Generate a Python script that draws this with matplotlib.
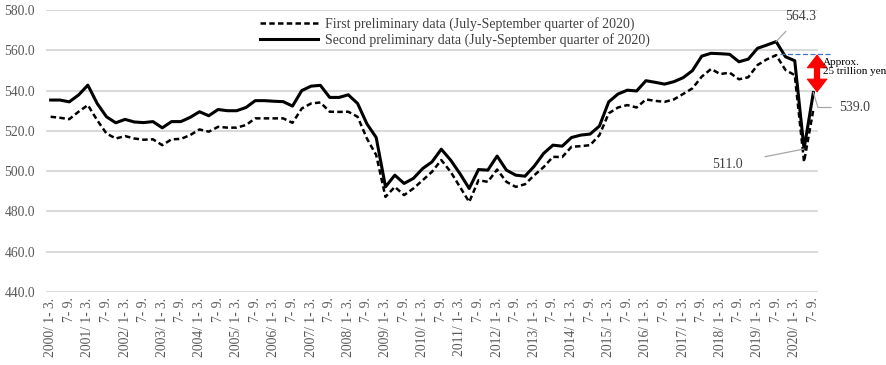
import numpy as np
import matplotlib.pyplot as plt

plt.rcParams["font.family"] = ["Liberation Serif", "DejaVu Serif"]

years = list(range(2000, 2021))
quarters = ["1- 3.", "4- 6.", "7- 9.", "10-12."]

# First preliminary data (July-September quarter of 2020)
first_prelim = [
    527.0, 526.5, 525.8, 529.5, 532.8, 525.3, 518.7, 516.2, 517.4, 516.2,
    515.6, 515.8, 512.9, 515.8, 516.0, 517.9, 520.7, 519.6, 522.0, 521.6,
    521.6, 522.9, 526.2, 526.2, 526.2, 526.2, 524.0, 531.1, 533.6, 534.1,
    529.5, 529.4, 529.5, 527.0, 516.2, 508.0, 487.2, 492.2, 488.1, 491.4,
    495.5, 499.7, 505.5, 499.7, 492.2, 484.7, 495.5, 494.7, 500.8, 494.7,
    492.2, 493.5, 498.0, 502.0, 507.1, 507.0, 512.1, 512.4, 512.9, 517.9,
    528.7, 531.6, 532.8, 531.6, 535.6, 534.9, 534.4, 535.6, 538.3, 541.1,
    546.9, 550.7, 548.2, 548.9, 545.6, 546.6, 552.7, 555.5, 557.6, 550.2,
    547.7, 504.6, 530.5,
]

# Second preliminary data (July-September quarter of 2020)
second_prelim = [
    535.3, 535.3, 534.4, 537.8, 542.7, 533.6, 527.0, 524.0, 525.7, 524.4,
    524.1, 524.6, 521.5, 524.6, 524.6, 526.7, 529.5, 527.5, 530.6, 530.0,
    530.0, 531.6, 535.0, 535.0, 534.7, 534.5, 532.3, 540.0, 542.2, 542.6,
    536.6, 536.6, 537.9, 533.6, 523.5, 516.7, 492.2, 498.0, 493.9, 496.4,
    501.3, 504.6, 510.9, 505.5, 498.8, 491.4, 500.8, 500.5, 507.5, 500.5,
    498.0, 497.5, 502.5, 508.8, 512.9, 512.4, 516.7, 517.9, 518.4, 522.4,
    534.4, 538.3, 540.2, 539.8, 544.9, 544.1, 543.2, 544.4, 546.4, 549.9,
    557.1, 558.5, 558.3, 558.0, 554.3, 555.6, 561.0, 562.6, 564.3, 556.8,
    554.8, 511.0, 539.0,
]

pre_covid_level = 558.0
tick_labels = []
for y in years:
    for q in quarters:
        tick_labels.append(f"{y}/ {q}")
tick_labels = tick_labels[:len(second_prelim)]


def main():
    x = np.arange(len(second_prelim))
    fig = plt.figure(figsize=(8.87, 3.65), dpi=100)
    ax = fig.add_axes([46 / 887, 1 - 292 / 365, 772 / 887, 282 / 365])

    ax.plot(x, first_prelim, color="black", lw=1.8, ls=(0, (2.2, 1.3)),
            label="First preliminary data (July-September quarter of 2020)")
    ax.plot(x, second_prelim, color="black", lw=2.2,
            label="Second preliminary data (July-September quarter of 2020)")

    ax.set_xlim(-0.5, len(x) - 0.5)
    ax.set_ylim(440, 580)
    ax.set_yticks(np.arange(440, 581, 20))
    ax.set_yticklabels([f"{v:.1f}" for v in np.arange(440, 581, 20)])
    ticks = x[::2]
    labels = [tick_labels[i] if i % 4 == 0 else tick_labels[i].split("/ ")[1] for i in ticks]
    ax.set_xticks(ticks)
    ax.set_xticklabels(labels, rotation=90)
    ax.tick_params(length=0, labelsize=9.8, labelcolor="#595959")
    ax.tick_params(axis="y", pad=8)
    ax.tick_params(axis="x", pad=4)
    ax.grid(axis="y", color="#d9d9d9", lw=1.4)
    ax.set_axisbelow(True)
    for s in ax.spines.values():
        s.set_visible(False)

    # annotations
    grey = "#a6a6a6"
    i_peak = 78
    ax.annotate(f"{second_prelim[i_peak]:.1f}", xy=(i_peak, second_prelim[i_peak]),
                xytext=(i_peak + 2.6, 577), ha="center", va="center",
                fontsize=10, color="#404040",
                arrowprops=dict(arrowstyle="-", color=grey, lw=0.9, shrinkA=6, shrinkB=0))
    ax.annotate(f"{second_prelim[81]:.1f}", xy=(81, second_prelim[81]),
                xytext=(72.8, 503.5), ha="center", va="center",
                fontsize=10, color="#404040",
                arrowprops=dict(arrowstyle="-", color=grey, lw=0.9, shrinkA=14, shrinkB=0))
    ax.plot([82, 82.5, 83.9], [second_prelim[82], 531.6, 531.6], color=grey, lw=0.9,
            clip_on=False)
    ax.text(86.4, 531.6, f"{second_prelim[82]:.1f}", ha="center", va="center",
            fontsize=10, color="#404040")

    ax.plot([78.4, 83.9], [pre_covid_level, pre_covid_level], color="#4472c4",
            lw=0.9, ls=(0, (4, 2)), clip_on=False)
    # red double arrow: thick shaft + filled heads
    ax.plot([82.4, 82.4], [second_prelim[82] + 3, pre_covid_level - 3], color="#ff0000",
            lw=4.5, solid_capstyle="butt", clip_on=False)
    ax.annotate("", xy=(82.4, pre_covid_level), xytext=(82.4, second_prelim[82]),
                arrowprops=dict(arrowstyle="<|-|>,head_length=0.45,head_width=0.35",
                                color="#ff0000", lw=0.8, mutation_scale=20,
                                shrinkA=0, shrinkB=0),
                annotation_clip=False)
    ax.text(83.0, pre_covid_level - 1.8, "Approx.\n25 trillion yen", ha="left", va="top",
            fontsize=8, linespacing=1.05, color="black")

    ax.legend(loc="upper center", bbox_to_anchor=(0.53, 1.02), frameon=False,
              fontsize=10, handlelength=4.2, handletextpad=0.5,
              labelspacing=0.15, labelcolor="#404040")

    fig.savefig("out.png", dpi=100)


if __name__ == "__main__":
    main()
